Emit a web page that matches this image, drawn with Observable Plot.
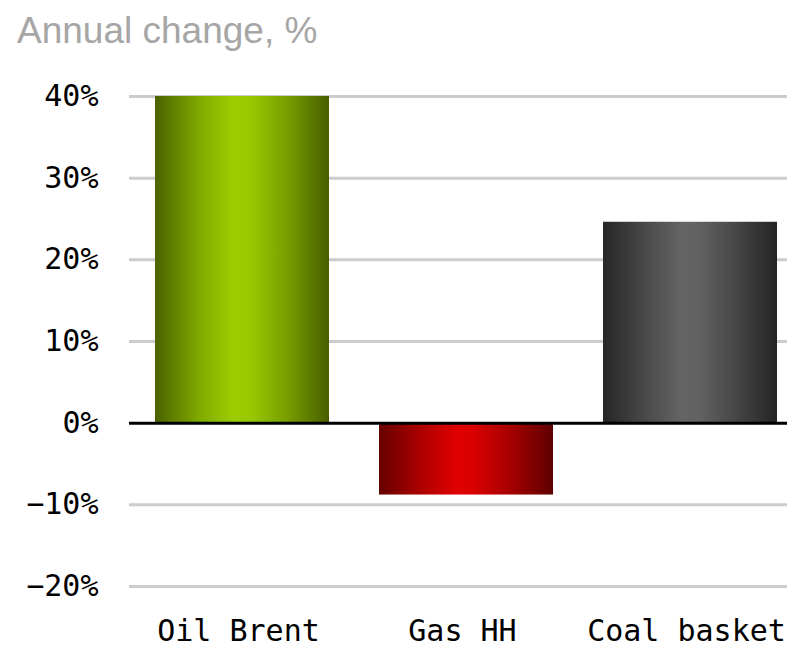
<!DOCTYPE html>
<html>
<head>
<meta charset="utf-8">
<script src="https://cdn.jsdelivr.net/npm/d3@7"></script>
<script src="https://cdn.jsdelivr.net/npm/@observablehq/plot@0.6"></script>
<style>
  html, body { margin: 0; padding: 0; background: #fff; }
  #title {
    font-family: "Liberation Sans", Arial, sans-serif;
    font-size: 37px; line-height: 37px; color: #a6a6a6;
    padding: 12px 0 0 17px; height: 46px; box-sizing: content-box;
  }
</style>
</head>
<body>
<div id="title">Annual change, %</div>
<div id="chart"></div>
<script>
const categories = ["Oil Brent", "Gas HH", "Coal basket"];
const values = [40, -8.8, 24.6];
const yTicks = [-20, -10, 0, 10, 20, 30, 40];

const gradients = {
  "Oil Brent": ["#4a6200", "#7fa800", "#9ccd00", "#98c900", "#7aa000", "#485e00"],
  "Gas HH": ["#660000", "#b00000", "#e00000", "#d80000", "#a80000", "#5e0000"],
  "Coal basket": ["#262626", "#4a4a4a", "#646464", "#626262", "#484848", "#242424"]
};
const gid = c => "grad" + categories.indexOf(c);

const data = categories.map((c, i) => ({cat: c, value: values[i]}));
const fmt = d => (d < 0 ? "\u2212" : "") + Math.abs(d) + "%";

const chart = Plot.plot({
  width: 787, height: 590,
  marginLeft: 129, marginRight: 0, marginTop: 38, marginBottom: 62,
  x: {domain: categories, paddingInner: 0.223, paddingOuter: 0.08, align: 0.72, label: null},
  y: {domain: [-20, 40], label: null},
  color: {type: "identity"},
  style: {fontFamily: "'DejaVu Sans Mono', monospace", fontSize: "30px", color: "#000", background: "#fff"},
  marks: [
    Plot.ruleY(yTicks.filter(d => d !== 0), {stroke: "#cccccc", strokeWidth: 3}),
    Plot.barY(data, {x: "cat", y: "value", fill: d => `url(#${gid(d.cat)})`}),
    Plot.ruleY([0], {stroke: "#000", strokeWidth: 3}),
    Plot.axisY({ticks: yTicks, tickFormat: fmt, tickSize: 0, tickPadding: 31, label: null}),
    Plot.axisX({tickSize: 0, tickPadding: 33, dx: -4, label: null})
  ]
});

const svg = d3.select(chart);
const defs = svg.insert("defs", ":first-child");
categories.forEach(c => {
  const g = defs.append("linearGradient").attr("id", gid(c))
    .attr("x1", "0").attr("x2", "1").attr("y1", "0").attr("y2", "0");
  const stops = gradients[c];
  const offs = [0, 0.25, 0.45, 0.55, 0.75, 1];
  stops.forEach((col, i) => g.append("stop").attr("offset", offs[i]).attr("stop-color", col));
});
document.getElementById("chart").appendChild(chart);
</script>
</body>
</html>
